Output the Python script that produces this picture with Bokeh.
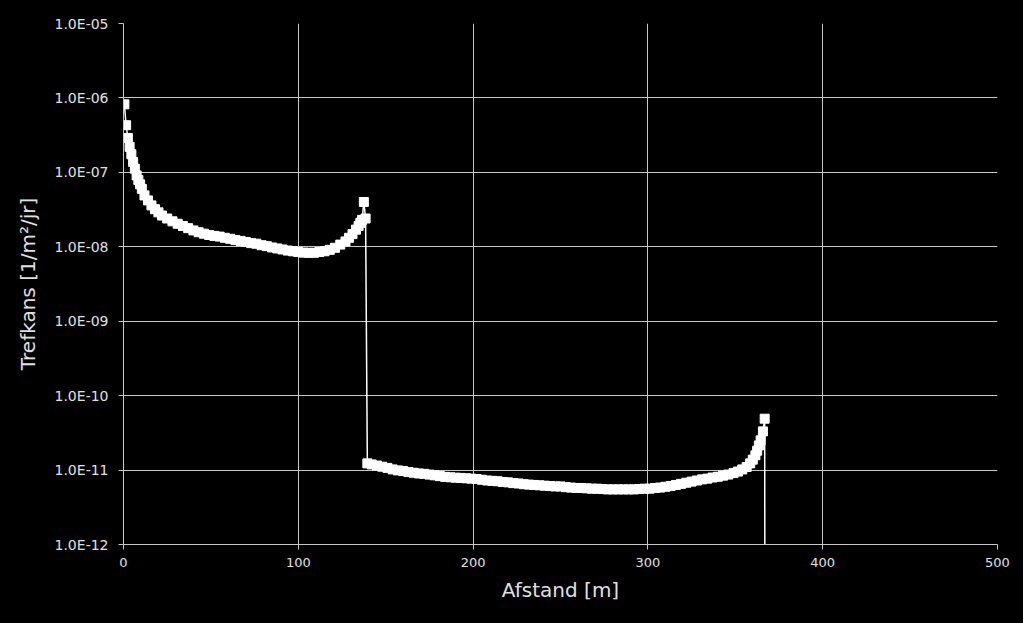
from bokeh.plotting import figure
from bokeh.models import FixedTicker, CustomJSTickFormatter, ColumnDataSource
from bokeh.embed import file_html
from bokeh.resources import INLINE

# ---- data ----
# first part (near the source)
dist_near = [0.5, 1.5, 2.5, 3.5, 4.5, 5.5, 6.5, 7.5, 8.5, 9.5, 10.5, 12, 14, 16, 18, 20, 22,
             25, 28, 31, 34, 37, 40, 43, 46, 49, 52, 55, 58, 61, 64, 67, 70, 73, 76, 79, 82,
             85, 88, 91, 94, 97, 100, 103, 106, 109, 112, 115, 118, 121, 124, 127, 129, 131,
             133, 134.5, 135.5, 136.5, 137.5, 138.5]
freq_near = [8.2e-7, 4.3e-7, 2.9e-7, 2.2e-7, 1.75e-7, 1.38e-7, 1.12e-7, 9.1e-8, 7.9e-8, 6.9e-8,
             6.0e-8, 4.9e-8, 4.2e-8, 3.6e-8, 3.2e-8, 2.9e-8, 2.63e-8, 2.4e-8, 2.2e-8, 2.04e-8,
             1.9e-8, 1.78e-8, 1.66e-8, 1.57e-8, 1.5e-8, 1.44e-8, 1.4e-8, 1.37e-8, 1.32e-8,
             1.28e-8, 1.23e-8, 1.2e-8, 1.16e-8, 1.12e-8, 1.1e-8, 1.05e-8, 1.02e-8, 9.8e-9,
             9.5e-9, 9.2e-9, 8.9e-9, 8.7e-9, 8.5e-9, 8.35e-9, 8.3e-9, 8.3e-9, 8.5e-9, 8.7e-9,
             9.1e-9, 9.7e-9, 1.07e-8, 1.18e-8, 1.32e-8, 1.48e-8, 1.7e-8, 1.9e-8, 2.1e-8, 2.3e-8,
             4.0e-8, 2.4e-8]
# second part
dist_far = [139.5, 142, 145, 148, 151, 154, 157, 160, 163, 166, 169, 172, 175, 178, 181, 184,
            187, 190, 193, 196, 199, 202, 205, 208, 211, 214, 217, 220, 223, 226, 229, 232,
            235, 238, 241, 244, 247, 250, 253, 256, 259, 262, 265, 268, 271, 274, 277, 280,
            283, 286, 289, 292, 295, 298, 301, 304, 307, 310, 313, 316, 319, 322, 325, 328,
            331, 334, 337, 340, 343, 346, 349, 351.5, 354, 356.5, 358.5, 360, 361.5, 362.5,
            363.5, 364.5, 365.8, 366.8]
freq_far = [1.23e-11, 1.19e-11, 1.15e-11, 1.11e-11, 1.07e-11, 1.02e-11, 9.9e-12, 9.7e-12,
            9.4e-12, 9.2e-12, 9.0e-12, 8.9e-12, 8.7e-12, 8.5e-12, 8.3e-12, 8.1e-12, 8.0e-12,
            7.9e-12, 7.85e-12, 7.76e-12, 7.67e-12, 7.59e-12, 7.41e-12, 7.24e-12, 7.16e-12,
            7.08e-12, 6.92e-12, 6.84e-12, 6.68e-12, 6.61e-12, 6.46e-12, 6.38e-12, 6.31e-12,
            6.24e-12, 6.17e-12, 6.10e-12, 6.03e-12, 6.03e-12, 5.89e-12, 5.82e-12, 5.75e-12,
            5.75e-12, 5.69e-12, 5.62e-12, 5.62e-12, 5.56e-12, 5.5e-12, 5.5e-12, 5.5e-12,
            5.5e-12, 5.5e-12, 5.5e-12, 5.56e-12, 5.62e-12, 5.62e-12, 5.75e-12, 5.82e-12,
            5.96e-12, 6.10e-12, 6.31e-12, 6.53e-12, 6.76e-12, 7.0e-12, 7.24e-12, 7.5e-12,
            7.67e-12, 7.94e-12, 8.13e-12, 8.41e-12, 8.71e-12, 9.12e-12, 9.55e-12, 1.02e-11,
            1.10e-11, 1.23e-11, 1.38e-11, 1.58e-11, 1.82e-11, 2.14e-11, 2.51e-11, 3.31e-11,
            4.9e-11]
# the series ends with a value off the bottom of the log axis
dist_end = [367.0]
freq_end = [1e-14]

x_ticks = [0, 100, 200, 300, 400, 500]
y_ticks = [1e-12, 1e-11, 1e-10, 1e-9, 1e-8, 1e-7, 1e-6, 1e-5]
y_tick_labels = ["1.0E-12", "1.0E-11", "1.0E-10", "1.0E-09", "1.0E-08",
                 "1.0E-07", "1.0E-06", "1.0E-05"]

FONT = "DejaVu Sans"
TXT = "#e0e0e0"
GRID = "#c8c8c8"

src = ColumnDataSource(dict(x=dist_near + dist_far + dist_end,
                            y=freq_near + freq_far + freq_end))

p = figure(width=1007, height=607, y_axis_type="log",
           x_range=(0, 500), y_range=(1e-12, 1e-5),
           output_backend="svg", toolbar_location=None,
           background_fill_color="black", border_fill_color="black",
           min_border_left=115, min_border_right=18,
           min_border_top=15, min_border_bottom=71)
p.outline_line_color = None

p.line("x", "y", source=src, line_color="white", line_width=1.5)
p.scatter("x", "y", source=src, marker="square", size=9,
          fill_color="white", line_color="white")

for g in (p.xgrid, p.ygrid):
    g.grid_line_color = GRID
    g.grid_line_width = 1
    g.minor_grid_line_color = None

p.xaxis.ticker = FixedTicker(ticks=x_ticks)
p.yaxis.ticker = FixedTicker(ticks=y_ticks)
p.yaxis.formatter = CustomJSTickFormatter(
    args=dict(tick_vals=y_ticks, tick_texts=y_tick_labels),
    code="""
    let best = 0, bd = Infinity;
    for (let i = 0; i < tick_vals.length; i++) {
        const d = Math.abs(Math.log10(tick) - Math.log10(tick_vals[i]));
        if (d < bd) { bd = d; best = i; }
    }
    return tick_texts[best];
    """)

for ax in (p.xaxis, p.yaxis):
    ax.axis_line_color = GRID
    ax.major_tick_line_color = GRID
    ax.major_tick_out = 5
    ax.major_tick_in = 0
    ax.minor_tick_line_color = None
    ax.major_label_text_color = TXT
    ax.major_label_text_font = FONT
    ax.axis_label_text_color = TXT
    ax.axis_label_text_font = FONT
    ax.axis_label_text_font_size = "20px"
    ax.axis_label_text_font_style = "normal"

p.xaxis.major_label_text_font_size = "13px"
p.yaxis.major_label_text_font_size = "14px"
p.xaxis.axis_label = "Afstand [m]"
p.yaxis.axis_label = "Trefkans [1/m²/jr]"
p.xaxis.major_label_standoff = 8
p.yaxis.major_label_standoff = 10
p.xaxis.axis_label_standoff = 8
p.yaxis.axis_label_standoff = 12

html = file_html(p, INLINE).replace(
    "<body>", '<body style="margin:8px; background-color:#000000;">')
open("out.html", "w").write(html)
